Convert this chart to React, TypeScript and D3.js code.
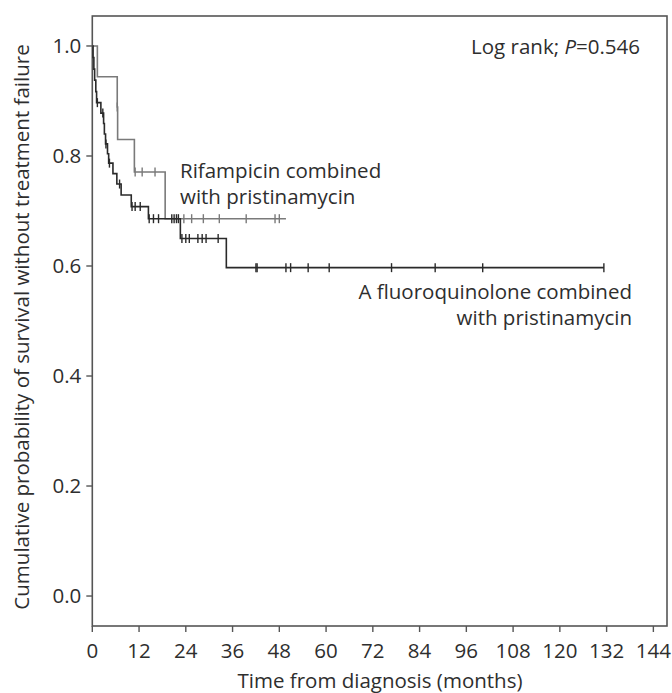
import React from "react";
import * as d3 from "d3";

// Rifampicin combined with pristinamycin (grey)
const rifTimes = [0, 1.3, 6.4, 6.5, 10.8, 18.7];
const rifSurv = [1.0, 0.944, 0.889, 0.83, 0.771, 0.686];
const rifEnd = 49.7;
const rifCensor = [6.4, 11.0, 12.8, 16.1, 23.5, 25.5, 28.5, 32.6, 39.5, 46.9, 48.0];

// A fluoroquinolone combined with pristinamycin (black)
const fqTimes = [0, 0.2, 0.4, 0.6, 0.9, 1.1, 2.2, 2.9, 3.1, 3.4, 3.9, 4.2, 5.3, 6.3, 7.4, 10.0, 14.4, 22.6, 34.4];
const fqSurv = [1.0, 0.979, 0.958, 0.938, 0.917, 0.897, 0.878, 0.859, 0.84, 0.822, 0.804, 0.787, 0.768, 0.749, 0.729, 0.708, 0.686, 0.65, 0.597];
const fqEnd = 131.3;
const fqCensor = [1.3, 2.7, 3.5, 4.4, 7.0, 10.2, 11.0, 12.3, 14.6, 15.7, 17.0, 20.4, 21.0, 21.6, 22.1,
  23.0, 24.0, 24.9, 27.1, 28.2, 29.2, 32.3, 42.0, 42.3, 49.7, 50.9, 55.4, 60.8, 76.8, 88.0, 100.2, 131.3];

const xTicks = [0, 12, 24, 36, 48, 60, 72, 84, 96, 108, 120, 132, 144];
const yTicks = [0, 0.2, 0.4, 0.6, 0.8, 1.0];

const W = 672, H = 693;
const L = 92.3, R = 667, T = 16, B = 626;
const FONT = "'Open Sans', 'DejaVu Sans', sans-serif";
const FS = 20.5;

function survAt(times: number[], surv: number[], t: number) {
  let s = surv[0];
  for (let i = 0; i < times.length; i++) if (times[i] <= t) s = surv[i];
  return s;
}

export default function App() {
  const x = d3.scaleLinear().domain([0, 147.5]).range([L, R]);
  const y = d3.scaleLinear().domain([-0.0545, 1.0545]).range([B, T]);
  const line = d3.line<[number, number]>().x(d => x(d[0])).y(d => y(d[1])).curve(d3.curveStepAfter);

  const rifPts: [number, number][] = rifTimes.map((t, i) => [t, rifSurv[i]] as [number, number]);
  rifPts.push([rifEnd, rifSurv[rifSurv.length - 1]]);
  const fqPts: [number, number][] = fqTimes.map((t, i) => [t, fqSurv[i]] as [number, number]);
  fqPts.push([fqEnd, fqSurv[fqSurv.length - 1]]);

  const grey = "#7a7a7a";
  const black = "#2a2a2a";
  const txt = "#2e2e2e";

  return (
    <svg width={W} height={H} style={{ position: "absolute", left: 0, top: 0, background: "#fff" }} fontFamily={FONT}>
      <rect x={L} y={T} width={R - L} height={B - T} fill="none" stroke="#555" strokeWidth={1.6} />
      {xTicks.map(t => (
        <g key={"x" + t}>
          <line x1={x(t)} x2={x(t)} y1={B} y2={B + 6} stroke="#555" strokeWidth={1.4} />
          <text x={x(t)} y={658} fontSize={FS} textAnchor="middle" fill={txt}>{t}</text>
        </g>
      ))}
      {yTicks.map(v => (
        <g key={"y" + v}>
          <line x1={L - 6} x2={L} y1={y(v)} y2={y(v)} stroke="#555" strokeWidth={1.4} />
          <text x={L - 11} y={y(v) + 7} fontSize={FS} textAnchor="end" fill={txt}>{v.toFixed(1)}</text>
        </g>
      ))}
      <text x={380} y={688} fontSize={FS} textAnchor="middle" fill={txt}>Time from diagnosis (months)</text>
      <text transform={`translate(29,${327}) rotate(-90)`} fontSize={FS} textAnchor="middle" fill={txt}>
        Cumulative probability of survival without treatment failure
      </text>

      <path d={line(rifPts) || ""} fill="none" stroke={grey} strokeWidth={1.6} />
      {rifCensor.map((t, i) => {
        const s = survAt(rifTimes, rifSurv, t);
        return <line key={"rc" + i} x1={x(t)} x2={x(t)} y1={y(s) - 4.5} y2={y(s) + 4.5} stroke={grey} strokeWidth={1.4} />;
      })}
      <path d={line(fqPts) || ""} fill="none" stroke={black} strokeWidth={1.6} />
      {fqCensor.map((t, i) => {
        const s = survAt(fqTimes, fqSurv, t);
        return <line key={"fc" + i} x1={x(t)} x2={x(t)} y1={y(s) - 4.5} y2={y(s) + 4.5} stroke={black} strokeWidth={1.4} />;
      })}

      <text x={640} y={54} fontSize={FS} textAnchor="end" fill={txt}>
        Log rank; <tspan fontStyle="italic">P</tspan>=0.546
      </text>
      <text x={180} y={178} fontSize={FS} fill={txt}>Rifampicin combined</text>
      <text x={180} y={204} fontSize={FS} fill={txt}>with pristinamycin</text>
      <text x={632} y={299} fontSize={FS} textAnchor="end" fill={txt}>A fluoroquinolone combined</text>
      <text x={632} y={325} fontSize={FS} textAnchor="end" fill={txt}>with pristinamycin</text>
    </svg>
  );
}
